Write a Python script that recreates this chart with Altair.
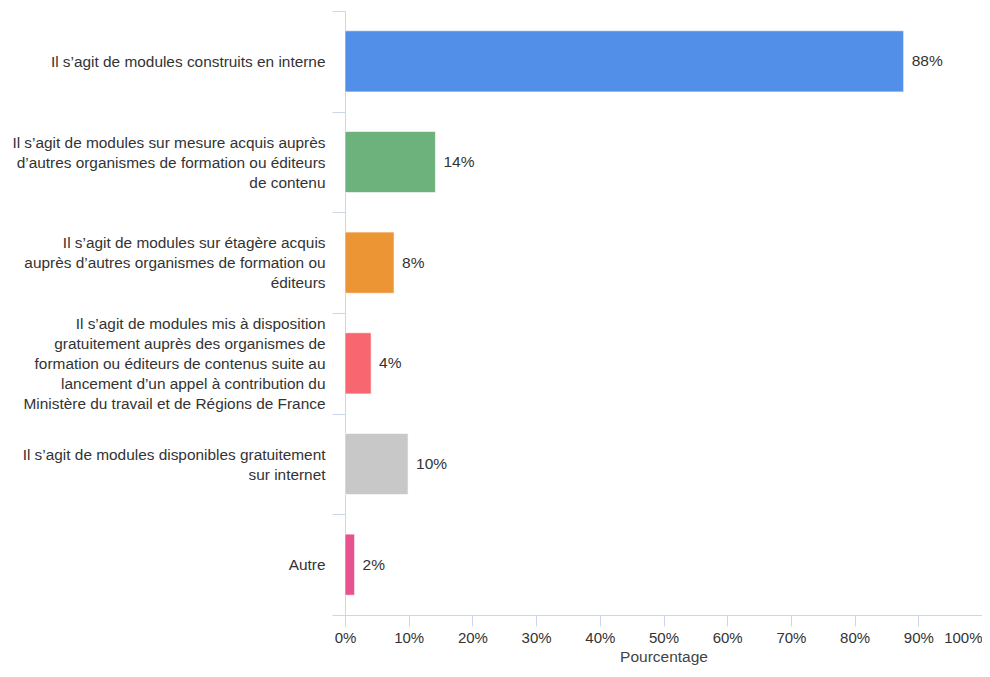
import altair as alt
import pandas as pd

categories = [
    "Il s’agit de modules construits en interne",
    "Il s’agit de modules sur mesure acquis auprès|d’autres organismes de formation ou éditeurs|de contenu",
    "Il s’agit de modules sur étagère acquis|auprès d’autres organismes de formation ou|éditeurs",
    "Il s’agit de modules mis à disposition|gratuitement auprès des organismes de|formation ou éditeurs de contenus suite au|lancement d’un appel à contribution du|Ministère du travail et de Régions de France",
    "Il s’agit de modules disponibles gratuitement|sur internet",
    "Autre",
]
values = [87.7, 14.2, 7.7, 4.1, 9.9, 1.5]
labels = ["88%", "14%", "8%", "4%", "10%", "2%"]
colors = ["#528FE8", "#6DB27C", "#EC9534", "#F8666F", "#C8C8C8", "#E8528F"]
x_ticks = [0, 10, 20, 30, 40, 50, 60, 70, 80, 90, 100]

df = pd.DataFrame({"cat": categories, "value": values, "label": labels})

FONT = "Liberation Sans"
AXIS_COLOR = "#CCD6EB"
TEXT_COLOR = "#333333"

y_enc = alt.Y(
    "cat:N",
    sort=categories,
    title=None,
    scale=alt.Scale(paddingInner=0, paddingOuter=0),
    axis=alt.Axis(
        labelExpr="split(datum.label, '|')",
        labelLimit=0,
        labelFontSize=15.4,
        labelFont=FONT,
        labelColor=TEXT_COLOR,
        labelLineHeight=20,
        labelBaseline="middle",
        labelOffset=alt.expr("-(length(split(datum.label, '|')) - 1) * 10"),
        labelPadding=7,
        tickBand="extent",
        tickSize=13,
        tickColor=AXIS_COLOR,
        domainColor=AXIS_COLOR,
        grid=False,
    ),
)

x_enc = alt.X(
    "value:Q",
    scale=alt.Scale(domain=[0, 100], nice=False),
    title="Pourcentage",
    axis=alt.Axis(
        values=x_ticks,
        labelExpr="datum.value + '%'",
        labelFontSize=15,
        labelFont=FONT,
        labelColor=TEXT_COLOR,
        labelPadding=4,
        labelAlign=alt.expr("datum.value == 100 ? 'right' : 'center'"),
        labelFlush=False,
        tickSize=11,
        tickColor=AXIS_COLOR,
        domainColor=AXIS_COLOR,
        grid=False,
        titleFont=FONT,
        titleFontSize=15.5,
        titleFontWeight="normal",
        titleColor="#444444",
        titlePadding=4,
    ),
)

bars = alt.Chart(df).mark_bar(
    stroke="#FFFFFF", strokeWidth=1, strokeOpacity=0.6,
    height=alt.RelativeBandSize(0.607),
).encode(
    y=y_enc,
    x=x_enc,
    color=alt.Color("cat:N", scale=alt.Scale(domain=categories, range=colors), legend=None),
)

text = alt.Chart(df).mark_text(
    align="left", baseline="middle", dx=8, font=FONT, fontSize=15.5, color=TEXT_COLOR
).encode(
    y=alt.Y("cat:N", sort=categories),
    x=alt.X("value:Q"),
    text="label:N",
)

chart = (
    alt.layer(bars, text)
    .properties(
        width=637,
        height=604,
        autosize=alt.AutoSizeParams(type="none"),
        padding={"left": 337, "top": 3, "right": 0, "bottom": 54},
    )
    .configure_view(stroke=None)
)

chart.save("out.html", embed_options={"renderer": "svg", "actions": False})
